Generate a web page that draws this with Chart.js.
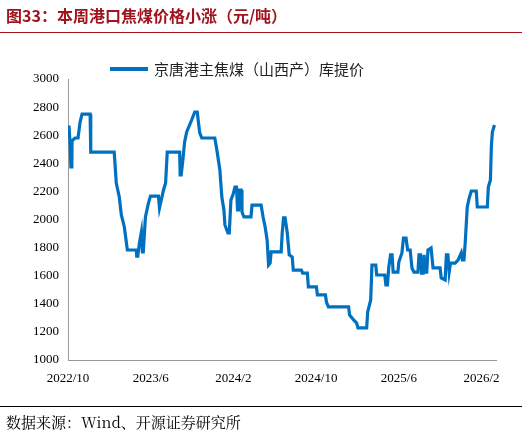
<!DOCTYPE html>
<html><head><meta charset="utf-8">
<script src="https://cdn.jsdelivr.net/npm/chart.js@4"></script>
<style>
body{margin:0;background:#fff;width:522px;height:438px;position:relative;overflow:hidden;font-family:"Noto Sans CJK SC",sans-serif}
#t{position:absolute;left:6px;top:3px;font-size:16px;font-weight:bold;color:#A0141E}
#tl{position:absolute;left:0;top:32px;width:522px;height:1px;background:#A0141E}
#f{position:absolute;left:6px;top:411px;font-size:15px;color:#000;font-family:"Noto Serif CJK SC","Noto Sans CJK SC",serif}
#fl{position:absolute;left:0;top:406px;width:522px;height:1px;background:#000}
#lg{position:absolute;left:110px;top:58px;font-size:15px;color:#222;display:flex;align-items:center}
#lg span{display:inline-block;width:38px;height:4px;background:#0070C0;margin-right:6px}
canvas{position:absolute;left:0;top:0}
</style></head><body>
<canvas id="c" width="522" height="438"></canvas>
<div id="t">图33：本周港口焦煤价格小涨（元/吨）</div><div id="tl"></div>
<div id="lg"><span></span>京唐港主焦煤（山西产）库提价</div>
<div id="fl"></div>
<div id="f">数据来源：Wind、开源证券研究所</div>
<script>
const seriesName='京唐港主焦煤（山西产）库提价';
const tickLabels=['2022/10','2023/6','2024/2','2024/10','2025/6','2026/2'];
const tickMonths=[0,8,16,24,32,40];
// [months since 2022/10, price]
const series=[[0,2658],[0.1,2658],[0.2,2545],[0.27,2545],[0.29,2374],[0.37,2374],[0.39,2560],[0.68,2580],[0.97,2580],[1.17,2694],[1.36,2750],[2.14,2750],[2.2,2480],[4.47,2480],[4.67,2260],[4.96,2160],[5.16,2032],[5.45,1947],[5.74,1783],[6.61,1783],[6.65,1740],[6.75,1740],[6.91,1833],[7.10,1911],[7.2,1769],[7.28,1769],[7.49,2018],[7.78,2117],[7.98,2167],[8.75,2167],[8.85,2082],[9.24,2210],[9.44,2260],[9.6,2480],[10.8,2480],[10.85,2317],[10.95,2317],[11.09,2409],[11.28,2552],[11.48,2623],[11.96,2708],[12.26,2765],[12.5,2765],[12.74,2616],[12.94,2580],[14.2,2580],[14.4,2495],[14.69,2352],[14.88,2160],[15.08,2068],[15.18,1961],[15.47,1904],[15.6,1904],[15.76,2139],[15.95,2174],[16.15,2231],[16.3,2231],[16.4,2068],[16.5,2068],[16.6,2210],[16.75,2210],[16.83,2053],[17.02,2018],[17.7,2018],[17.8,2103],[18.68,2103],[18.87,2018],[19.07,1947],[19.26,1854],[19.4,1676],[19.55,1690],[19.65,1769],[20.62,1769],[20.72,1904],[20.85,2011],[21.0,2011],[21.21,1904],[21.4,1748],[21.69,1733],[21.79,1640],[22.57,1640],[22.7,1619],[23.15,1619],[23.25,1520],[24.03,1520],[24.12,1463],[24.9,1463],[25.0,1413],[25.19,1378],[27.14,1378],[27.24,1320],[27.63,1285],[27.92,1263],[28.05,1228],[28.89,1228],[28.99,1342],[29.28,1427],[29.4,1676],[29.77,1676],[29.86,1605],[30.64,1605],[30.75,1534],[30.9,1534],[31.03,1662],[31.2,1748],[31.35,1748],[31.45,1626],[31.91,1626],[32.0,1697],[32.3,1762],[32.45,1868],[32.7,1868],[32.85,1783],[33.1,1783],[33.27,1655],[33.46,1626],[33.85,1626],[33.95,1748],[34.1,1748],[34.2,1619],[34.35,1619],[34.44,1748],[34.55,1626],[34.7,1626],[34.82,1783],[35.12,1797],[35.2,1797],[35.31,1655],[35.99,1655],[36.1,1584],[36.48,1570],[36.6,1748],[36.75,1748],[36.87,1626],[37.0,1690],[37.45,1690],[37.74,1712],[38.04,1762],[38.15,1712],[38.3,1712],[38.42,1832],[38.62,2089],[38.81,2153],[39.01,2203],[39.49,2203],[39.59,2089],[40.56,2089],[40.66,2231],[40.86,2281],[40.95,2516],[41.05,2623],[41.25,2673]];
const pts=series.map(p=>({x:p[0],y:p[1]}));
const serif='"Liberation Serif","DejaVu Serif",serif';
new Chart(document.getElementById('c'),{
 type:'line',
 data:{datasets:[{label:seriesName,data:pts,borderColor:'#0070C0',borderWidth:3.2,pointRadius:0,tension:0,fill:false}]},
 options:{responsive:false,animation:false,
  layout:{padding:{top:79,right:26,left:0,bottom:0}},
  plugins:{legend:{display:false},tooltip:{enabled:false}},
  scales:{
   x:{type:'linear',min:0,max:41.4,
     afterBuildTicks:s=>{s.ticks=tickMonths.map(v=>({value:v}));},
     afterFit:s=>{s.height=78;},
     grid:{display:false,drawTicks:true,tickLength:5,color:'#999'},
     border:{color:'#999',width:1},
     ticks:{autoSkip:false,maxRotation:0,padding:6,color:'#000',font:{family:serif,size:13},
       callback:v=>{const i=tickMonths.indexOf(v);return i>=0?tickLabels[i]:'';}}},
   y:{min:1000,max:3000,
     afterFit:s=>{s.width=68;},
     grid:{display:false,drawTicks:true,tickLength:5,color:'#999'},
     border:{color:'#999',width:1},
     ticks:{stepSize:200,color:'#000',font:{family:serif,size:13},padding:4,callback:v=>String(v)}}
  }}
});
</script></body></html>
